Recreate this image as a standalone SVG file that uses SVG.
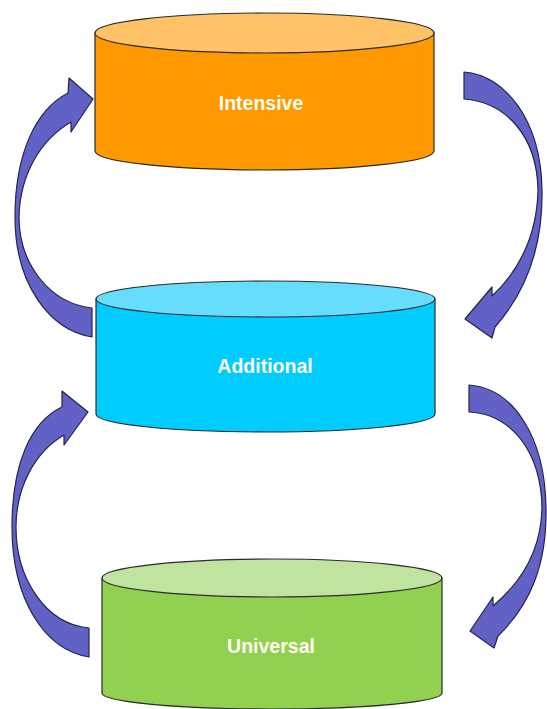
<svg xmlns="http://www.w3.org/2000/svg" width="547" height="709" viewBox="0 0 547 709">
<style>
.side{stroke:#2b2b2b;stroke-width:1.2}
.top{stroke:#2b2b2b;stroke-width:1.2}
.lbl{font-family:"Liberation Sans",Arial,sans-serif;font-weight:bold;font-size:19.5px;fill:#fffdf4;text-anchor:middle}
.arr{fill:#6262c6;stroke:#24244e;stroke-width:1.2;stroke-linejoin:round}
</style>
<rect width="547" height="709" fill="#ffffff"/>
<g id="intensive">
<path class="side" fill="#ff9900" d="M95,33 L95,151 A169.5,19 0 0 0 434,151 L434,33 Z"/>
<ellipse class="top" fill="#ffc266" cx="264.5" cy="33" rx="169.5" ry="20"/>
<text class="lbl" x="261" y="110">Intensive</text>
</g>
<g id="additional">
<path class="side" fill="#00ccff" d="M96,299 L96,414 A169.5,18 0 0 0 435,414 L435,299 Z"/>
<ellipse class="top" fill="#66ddfc" cx="265.5" cy="299" rx="169.5" ry="18"/>
<text class="lbl" x="265" y="373">Additional</text>
</g>
<g id="universal">
<path class="side" fill="#92d050" d="M102,578 L102,693 A170,16 0 0 0 442,693 L442,578 Z"/>
<ellipse class="top" fill="#c0e4a0" cx="272" cy="578" rx="170" ry="19"/>
<text class="lbl" x="271" y="653">Universal</text>
</g>
<g id="connectors">
<path class="arr" d="M92,337 C50,330 15,285 15,217 C15,155 35,110 68,93 L69,78 L93,99 L71,132 L71,122 C40,140 20,175 19,217 C19,262 48,303 92,308 Z"/>
<path class="arr" d="M464,72 C505,75 541,120 542,190 C543,250 525,293 495,327 L492,338 L465,319 L492,287 L492,296 C515,275 537,240 538,190 C537,135 505,102 464,99 Z"/>
<path class="arr" d="M89,657 C45,650 12,600 12,527 C12,465 30,422 62,407 L62,391 L88,412 L64,445 L64,435 C35,452 16,487 16,527 C16,578 45,624 89,628 Z"/>
<path class="arr" d="M469,385 C512,388 545,435 546,508 C547,565 530,605 498,636 L494,648 L470,631 L493,597 L493,606 C518,585 541,555 542,508 C541,450 510,414 469,412 Z"/>
</g>
</svg>
